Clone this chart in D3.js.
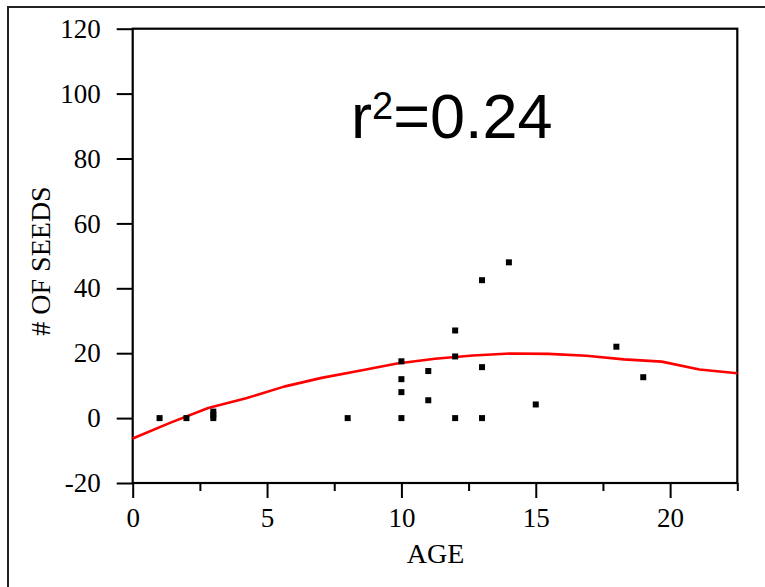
<!DOCTYPE html>
<html>
<head>
<meta charset="utf-8">
<script src="https://cdn.jsdelivr.net/npm/d3@7"></script>
<style>
  html, body { margin: 0; padding: 0; background: #fff; }
  svg { display: block; }
</style>
</head>
<body>
<svg id="chart" width="765" height="587"></svg>
<script>
// ---- data ----
const ages  = [1, 2, 3, 3, 3, 8, 10, 10, 10, 10, 11, 11, 12, 12, 12, 13, 13, 13, 14, 15, 18, 19];
const seeds = [0, 0, 0, 1, 2, 0, 0, 8, 12, 17.5, 5.5, 14.5, 0, 19, 27, 0, 15.7, 42.5, 48, 4.2, 22, 12.6];

const fitAges  = [0, 1.41, 2.81, 4.22, 5.63, 7.03, 8.44, 9.84, 11.25, 12.66, 14.06, 15.47, 16.88, 18.28, 19.69, 21.09, 22.5];
const fitSeeds = [-6.3, -1.4, 3.1, 6.1, 9.7, 12.4, 14.6, 16.8, 18.3, 19.3, 19.9, 19.8, 19.2, 18.1, 17.4, 15.0, 13.8];

const yTicks = [-20, 0, 20, 40, 60, 80, 100, 120];
const xMajorTicks = [0, 5, 10, 15, 20];
const xMinorTicks = [2.5, 7.5, 12.5, 17.5, 22.5];
const xDomain = [0, 22.5];
const yDomain = [-20, 120];
const r2Label = "0.24";

// ---- drawing ----
const svg = d3.select("#chart");
const L = 132.7, R = 737.3, T = 28.7, B = 483;
const x = d3.scaleLinear().domain(xDomain).range([L, R]);
const y = d3.scaleLinear().domain(yDomain).range([B, T]);

const serif = "'Liberation Serif', 'Times New Roman', serif";
const plain = d => String(d);

// outer frame (partially cut by the window)
svg.append("rect")
  .attr("x", 8).attr("y", 7).attr("width", 820).attr("height", 640)
  .attr("fill", "none").attr("stroke", "#222").attr("stroke-width", 2);

// y axis
const yAxis = svg.append("g").attr("transform", `translate(${L},0)`)
  .call(d3.axisLeft(y).tickValues(yTicks).tickSize(16).tickPadding(16).tickFormat(plain));
yAxis.attr("font-family", serif).attr("font-size", 27);
yAxis.select(".domain").remove();
yAxis.selectAll("line").attr("stroke", "#000").attr("stroke-width", 2);
yAxis.selectAll("text").attr("fill", "#000");

// x axis major
const xAxis = svg.append("g").attr("transform", `translate(0,${B})`)
  .call(d3.axisBottom(x).tickValues(xMajorTicks).tickSize(15).tickPadding(10).tickFormat(plain));
xAxis.attr("font-family", serif).attr("font-size", 27);
xAxis.select(".domain").remove();
xAxis.selectAll("line").attr("stroke", "#000").attr("stroke-width", 2);
xAxis.selectAll("text").attr("fill", "#000");

// x axis minor
const xMinor = svg.append("g").attr("transform", `translate(0,${B})`)
  .call(d3.axisBottom(x).tickValues(xMinorTicks).tickSize(8).tickFormat(""));
xMinor.select(".domain").remove();
xMinor.selectAll("line").attr("stroke", "#000").attr("stroke-width", 2);

// plot frame
svg.append("rect")
  .attr("x", L).attr("y", T).attr("width", R - L).attr("height", B - T)
  .attr("fill", "none").attr("stroke", "#000").attr("stroke-width", 2.2);

// fit curve
const line = d3.line().x((d, i) => x(fitAges[i])).y(d => y(d));
svg.append("path")
  .datum(fitSeeds)
  .attr("d", line)
  .attr("fill", "none").attr("stroke", "#ff0000").attr("stroke-width", 2.6)
  .attr("stroke-linejoin", "round");

// points
const pts = ages.map((a, i) => ({ a, s: seeds[i] }));
svg.append("g").selectAll("rect").data(pts).enter().append("rect")
  .attr("x", d => x(d.a) - 3).attr("y", d => y(d.s) - 3)
  .attr("width", 6).attr("height", 6).attr("fill", "#000");

// axis titles
svg.append("text")
  .attr("x", 435.5).attr("y", 563)
  .attr("text-anchor", "middle")
  .attr("font-family", serif).attr("font-size", 28).attr("fill", "#000")
  .text("AGE");

svg.append("text")
  .attr("transform", "translate(50,261) rotate(-90)")
  .attr("text-anchor", "middle")
  .attr("font-family", serif).attr("font-size", 28).attr("fill", "#000")
  .text("# OF SEEDS");

// r² annotation
const r2 = svg.append("text")
  .attr("x", 351).attr("y", 138)
  .attr("font-family", "'Liberation Sans', Arial, Helvetica, sans-serif")
  .attr("font-size", 63).attr("fill", "#000");
r2.append("tspan").text("r");
r2.append("tspan").attr("font-size", 38).attr("dy", -19).text("2");
r2.append("tspan").attr("dy", 19).text("=" + r2Label);
</script>
</body>
</html>
